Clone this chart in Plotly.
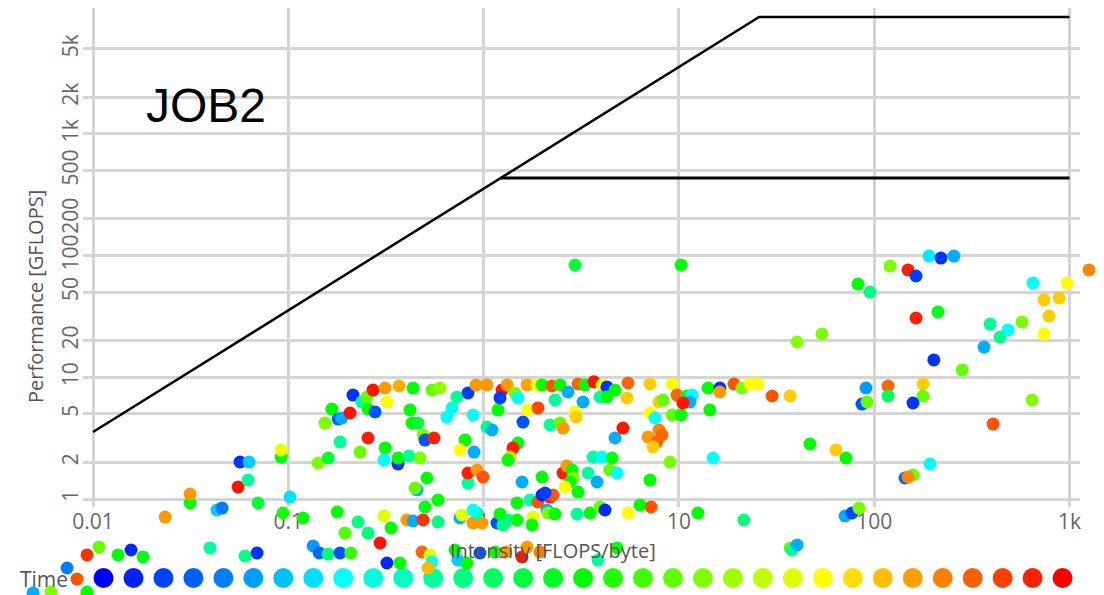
import plotly.graph_objects as go
import numpy as np

# ---------------- data ----------------
intensity = [
    0.00493, 0.00609, 0.00736, 0.00828, 0.00932, 0.0092, 0.00932, 0.01073, 0.01343, 0.01566,
    0.01803, 0.0234, 0.0314, 0.0314, 0.0397, 0.0431, 0.0458, 0.0553, 0.0566, 0.0629,
    0.0622, 0.060, 0.0692, 0.070, 0.0918, 0.0918, 0.0939, 0.102, 0.119, 0.134,
    0.144, 0.160, 0.184, 0.209, 0.178, 0.195, 0.2275, 0.256, 0.295, 0.320,
    0.373, 0.309, 0.336, 0.405, 0.435, 0.490, 0.501, 0.584, 0.584, 0.484,
    0.532, 0.544, 0.519, 0.714, 0.739, 0.822, 0.757, 0.775, 0.883, 0.981,
    0.925, 0.883, 0.958, 1.144, 1.302, 1.573, 1.668, 1.944, 1.171, 1.213,
    1.257, 1.333, 1.483, 1.79, 1.77, 1.483, 1.728, 1.899, 1.991, 2.188,
    2.112, 2.137, 2.32, 2.266, 2.063, 3.007, 3.506, 3.945, 4.183, 3.853,
    4.82, 5.49, 6.32, 7.2, 12.5, 21.5, 37.1, 37.9, 40.3, 70.9,
    77.0, 83.6, 0.167, 0.154, 0.180, 0.184, 0.142, 0.160, 0.188, 0.207,
    0.2145, 0.238, 0.253, 0.256, 0.278, 0.2715, 0.313, 0.369, 0.435, 0.544,
    0.598, 0.320, 0.42, 0.43, 0.461, 0.49, 0.501, 0.557, 0.256, 0.233,
    0.313, 0.309, 0.3645, 0.3645, 0.415, 0.472, 0.513, 0.456, 0.4455, 0.649,
    0.689, 0.731, 0.832, 0.914, 0.883, 0.803, 0.757, 0.893, 0.832, 0.832,
    0.925, 1.04, 1.104, 1.04, 1.242, 1.318, 1.448, 1.668, 1.877, 1.991,
    2.24, 2.462, 2.705, 3.044, 3.305, 3.675, 4.04, 4.28, 4.71, 5.49,
    7.11, 9.22, 1.185, 1.213, 1.5, 1.591, 1.688, 1.899, 2.188, 2.32,
    2.462, 2.551, 2.938, 2.972, 3.228, 3.945, 4.28, 4.71, 5.17, 1.5,
    1.414, 1.365, 1.333, 0.993, 1.573, 1.991, 2.551, 2.673, 2.836, 2.87,
    2.77, 2.61, 3.044, 3.424, 3.81, 3.633, 4.04, 4.545, 4.425, 4.82,
    7.11, 9.0, 5.42, 7.91, 8.29, 7.11, 7.54, 9.22, 10.25, 6.95,
    7.91, 8.19, 7.7, 7.37, 9.78, 11.0, 11.67, 11.4, 10.49, 14.4,
    14.1, 16.2, 16.2, 19.15, 21.0, 23.1, 25.4, 30.0, 37.1, 14.95,
    46.9, 63.7, 71.7, 40.25, 54.0, 2.938, 10.25, 82.6, 95.2, 120.5,
    149.0, 163.7, 190.8, 219.8, 256.0, 163.7, 212.0, 202.0, 282.0, 90.8,
    86.6, 91.9, 117.7, 117.7, 177.8, 177.8, 158.0, 193.0, 143.8, 158.0,
    149.0, 406.0, 643.0, 365.0, 392.0, 441.0, 484.0, 571.0, 650.0, 971.0,
    740.0, 884.0, 785.0, 740.0, 1258.0,
]
performance = [
    0.169, 0.172, 0.271, 0.220, 0.347, 0.16, 0.172, 0.403, 0.347, 0.381,
    0.334, 0.711, 0.927, 1.099, 0.396, 0.812, 0.843, 1.255, 2.014, 2.01,
    1.432, 0.340, 0.360, 0.927, 2.21, 2.53, 0.767, 1.038, 0.698, 0.411,
    0.360, 0.353, 0.360, 0.360, 0.782, 0.525, 0.647, 0.525, 0.435, 0.298,
    0.298, 0.725, 0.578, 0.672, 0.660, 0.672, 0.860, 0.981, 0.647, 0.367,
    0.347, 0.304, 0.271, 0.381, 0.315, 0.298, 0.698, 0.739, 0.635, 0.635,
    0.767, 0.812, 0.360, 0.367, 0.367, 0.334, 0.403, 0.367, 0.635, 0.753,
    0.611, 0.672, 0.672, 0.711, 0.611, 0.927, 0.981, 0.945, 1.079, 1.038,
    0.812, 0.767, 0.753, 1.079, 1.12, 0.753, 0.767, 0.860, 0.812, 0.315,
    0.396, 0.767, 0.893, 0.860, 0.767, 0.672, 0.396, 0.381, 0.419, 0.725,
    0.767, 0.843, 5.49, 4.21, 4.54, 2.94, 1.976, 2.173, 4.63, 5.09,
    7.15, 6.27, 6.89, 5.49, 5.19, 7.86, 8.17, 8.48, 8.17, 7.86,
    8.17, 6.27, 5.39, 4.21, 4.21, 3.36, 3.05, 3.17, 3.17, 2.43,
    2.63, 2.09, 1.94, 2.173, 2.256, 2.173, 1.488, 1.19, 1.231, 4.72,
    5.6, 6.89, 7.43, 8.65, 4.9, 3.05, 2.53, 2.43, 1.353, 1.636,
    1.73, 3.905, 3.69, 8.65, 7.86, 8.65, 7.43, 8.65, 8.65, 8.65,
    8.48, 8.65, 7.57, 8.81, 8.65, 9.18, 8.65, 8.33, 7.86, 8.98,
    8.81, 8.81, 5.39, 6.77, 6.77, 4.29, 5.39, 5.6, 4.06, 6.51,
    4.21, 3.83, 5.19, 4.72, 6.27, 6.89, 6.89, 3.17, 3.83, 2.885,
    2.63, 2.21, 2.09, 1.516, 1.379, 1.516, 1.636, 1.867, 1.73, 1.488,
    1.379, 1.255, 1.141, 1.636, 1.379, 2.21, 2.21, 2.173, 1.73, 1.636,
    1.432, 2.01, 6.77, 6.27, 6.51, 5.09, 4.63, 4.9, 4.9, 3.23,
    3.69, 3.36, 2.94, 2.675, 7.15, 7.02, 7.15, 6.27, 6.15, 5.39,
    8.17, 8.17, 7.57, 8.81, 8.17, 8.81, 8.81, 7.02, 7.02, 2.173,
    2.83, 2.53, 2.173, 19.5, 22.7, 83.7, 83.7, 58.4, 50.2, 82.1,
    76.2, 68.0, 99.2, 95.5, 99.2, 30.7, 34.4, 13.9, 11.5, 8.17,
    6.03, 6.27, 8.48, 7.02, 8.81, 7.02, 6.15, 1.94, 1.488, 1.575,
    1.516, 4.13, 6.51, 17.7, 27.4, 21.4, 24.5, 28.5, 59.6, 59.6,
    43.2, 44.8, 31.9, 22.7, 76.2,
]
time_frac = [
    0.17, 0.62, 0.12, 0.92, 0.95, 0.72, 0.50, 0.60, 0.50, 0.04,
    0.48, 0.85, 0.50, 0.85, 0.35, 0.20, 0.12, 0.98, 0.05, 0.20,
    0.35, 0.37, 0.05, 0.45, 0.50, 0.73, 0.52, 0.22, 0.50, 0.15,
    0.10, 0.38, 0.08, 0.55, 0.50, 0.58, 0.38, 0.38, 0.98, 0.04,
    0.50, 0.72, 0.50, 0.85, 0.17, 0.95, 0.48, 0.50, 0.38, 0.90,
    0.72, 0.25, 0.82, 0.50, 0.20, 0.50, 0.17, 0.72, 0.85, 0.85,
    0.35, 0.25, 0.08, 0.50, 0.85, 0.98, 0.85, 0.88, 0.08, 0.50,
    0.37, 0.38, 0.50, 0.73, 0.50, 0.50, 0.33, 0.92, 0.04, 0.97,
    0.17, 0.62, 0.50, 0.92, 0.06, 0.35, 0.50, 0.60, 0.04, 0.35,
    0.50, 0.75, 0.50, 0.92, 0.50, 0.37, 0.60, 0.35, 0.17, 0.17,
    0.07, 0.62, 0.50, 0.62, 0.10, 0.35, 0.62, 0.45, 0.17, 0.98,
    0.05, 0.35, 0.60, 0.50, 0.08, 0.98, 0.85, 0.83, 0.50, 0.60,
    0.64, 0.74, 0.50, 0.50, 0.45, 0.62, 0.08, 0.97, 0.97, 0.60,
    0.50, 0.25, 0.05, 0.50, 0.35, 0.62, 0.50, 0.17, 0.60, 0.25,
    0.27, 0.35, 0.06, 0.85, 0.25, 0.50, 0.75, 0.17, 0.35, 0.97,
    0.85, 0.37, 0.17, 0.85, 0.98, 0.85, 0.62, 0.84, 0.75, 0.50,
    0.92, 0.50, 0.17, 0.90, 0.50, 0.98, 0.75, 0.05, 0.50, 0.90,
    0.80, 0.75, 0.50, 0.06, 0.25, 0.08, 0.75, 0.93, 0.35, 0.35,
    0.60, 0.85, 0.75, 0.80, 0.17, 0.35, 0.50, 0.17, 0.98, 0.50,
    0.97, 0.80, 0.50, 0.92, 0.17, 0.50, 0.97, 0.85, 0.50, 0.62,
    0.50, 0.75, 0.50, 0.35, 0.17, 0.33, 0.25, 0.50, 0.60, 0.25,
    0.50, 0.62, 0.80, 0.80, 0.60, 0.75, 0.25, 0.60, 0.50, 0.85,
    0.87, 0.90, 0.90, 0.80, 0.90, 0.50, 0.25, 0.17, 0.98, 0.50,
    0.50, 0.05, 0.85, 0.92, 0.62, 0.75, 0.75, 0.92, 0.80, 0.25,
    0.50, 0.80, 0.50, 0.63, 0.62, 0.45, 0.50, 0.50, 0.37, 0.62,
    0.97, 0.06, 0.23, 0.05, 0.17, 0.97, 0.48, 0.05, 0.60, 0.15,
    0.08, 0.60, 0.90, 0.42, 0.80, 0.60, 0.05, 0.25, 0.10, 0.60,
    0.87, 0.92, 0.63, 0.17, 0.35, 0.37, 0.25, 0.62, 0.25, 0.75,
    0.80, 0.80, 0.80, 0.75, 0.87,
]

# roofline parameters
peak_bandwidth = 355.0            # GB/s
peak_flops = [9140.0, 434.0]      # GFLOPS
intensity_span = [0.01, 1000.0]

x_ticks = [0.01, 0.1, 1, 10, 100, 1000]
x_tick_text = ["0.01", "0.1", "1", "10", "100", "1k"]
y_ticks = [1, 2, 5, 10, 20, 50, 100, 200, 500, 1000, 2000, 5000]
y_tick_text = ["1", "2", "5", "10", "20", "50", "100", "200", "500", "1k", "2k", "5k"]

legend_steps = 33

# ---------------- colours ----------------
scale_stops = [(0.0, (0, 0, 255)), (0.25, (0, 255, 255)), (0.5, (0, 255, 0)),
               (0.75, (255, 255, 0)), (1.0, (255, 0, 0))]
colorscale = [[s, "rgb(%d,%d,%d)" % c] for s, c in scale_stops]


def color_at(t):
    for (s0, c0), (s1, c1) in zip(scale_stops[:-1], scale_stops[1:]):
        if t <= s1:
            f = (t - s0) / (s1 - s0)
            return "rgb(%d,%d,%d)" % tuple(round(a + (b - a) * f) for a, b in zip(c0, c1))
    return "rgb(255,0,0)"


# ---------------- geometry ----------------
W, H = 1104, 595
plot_l, plot_r, plot_t, plot_b = 83, 1080, 8, 507     # main plot box in pixels
x_range = [-2.0512, 3.0538]                           # log10 range of main x axis
y_range = [-0.0657, 4.0345]                           # log10 range of main y axis
px_per_dec_x = (plot_r - plot_l) / (x_range[1] - x_range[0])
px_per_dec_y = (plot_b - plot_t) / (y_range[1] - y_range[0])
# an invisible full-page axis pair with the same scale, so marks may spill past the box
x_range_full = [x_range[0] - plot_l / px_per_dec_x, x_range[1] + (W - plot_r) / px_per_dec_x]
y_range_full = [y_range[0] - (H - plot_b) / px_per_dec_y, y_range[1] + plot_t / px_per_dec_y]

fig = go.Figure()

# roofs
ridge_hi = peak_flops[0] / peak_bandwidth
ridge_lo = peak_flops[1] / peak_bandwidth
fig.add_trace(go.Scatter(
    x=[intensity_span[0], ridge_hi, intensity_span[1]],
    y=[intensity_span[0] * peak_bandwidth, peak_flops[0], peak_flops[0]],
    mode="lines", line=dict(color="black", width=2.5), hoverinfo="skip"))
fig.add_trace(go.Scatter(
    x=[ridge_lo, intensity_span[1]], y=[peak_flops[1], peak_flops[1]],
    mode="lines", line=dict(color="black", width=3), hoverinfo="skip"))

# measurements (on the full-page axes)
fig.add_trace(go.Scatter(
    x=intensity, y=performance, mode="markers", xaxis="x2", yaxis="y2",
    marker=dict(size=13, color=time_frac, colorscale=colorscale, cmin=0, cmax=1,
                line=dict(width=0), opacity=1)))

grid = "#d5d5d5"
tickfont = dict(family="Open Sans, sans-serif", size=21, color="#666666")

fig.update_layout(
    width=W, height=H, margin=dict(l=0, r=0, t=0, b=0, pad=0),
    paper_bgcolor="white", plot_bgcolor="rgba(0,0,0,0)", showlegend=False,
    xaxis=dict(type="log", range=x_range, domain=[plot_l / W, plot_r / W], anchor="y",
               tickvals=x_ticks, ticktext=x_tick_text, automargin=False,
               showgrid=True, gridcolor=grid, gridwidth=3, zeroline=False, showline=False,
               ticks="", tickfont=tickfont),
    yaxis=dict(type="log", range=y_range, domain=[1 - plot_b / H, 1 - plot_t / H], anchor="x",
               tickvals=y_ticks, ticktext=y_tick_text, automargin=False,
               showgrid=True, gridcolor=grid, gridwidth=3, zeroline=False, showline=False,
               ticks="", tickfont=tickfont, tickangle=-90),
    xaxis2=dict(type="log", range=x_range_full, domain=[0, 1], anchor="y2", visible=False,
                automargin=False),
    yaxis2=dict(type="log", range=y_range_full, domain=[0, 1], anchor="x2", visible=False,
                automargin=False),
)


def px_to_paper(px, py):
    return px / W, 1 - py / H


anns = []


def add_text(text, px, py, size, family="Open Sans, sans-serif", color="#555555", angle=0):
    x, y = px_to_paper(px, py)
    anns.append(dict(text=text, x=x, y=y, xref="paper", yref="paper", showarrow=False,
                     xanchor="center", yanchor="middle", textangle=angle,
                     font=dict(family=family, size=size, color=color)))


add_text("JOB2", 206, 105, 48, family="Liberation Sans, Arial, sans-serif", color="black")
add_text("Performance [GFLOPS]", 35, 297, 20, angle=-90)
add_text("Intensity [FLOPS/byte]", 553, 550, 20)
add_text("Time", 44, 579, 21)
fig.update_layout(annotations=anns)

# colour legend along the bottom
shapes = []
for i, t in enumerate(np.linspace(0, 1, legend_steps)):
    cx, cy = px_to_paper(103.5 + i * 29.97, 578)
    shapes.append(dict(type="circle", xref="paper", yref="paper", xsizemode="pixel",
                       ysizemode="pixel", xanchor=cx, yanchor=cy, x0=-10, x1=10, y0=-10, y1=10,
                       fillcolor=color_at(t), line=dict(width=0), layer="below"))
fig.update_layout(shapes=shapes)

fig.write_html("out.html", config={"displayModeBar": False},
               post_script="document.body.style.margin='0';")
